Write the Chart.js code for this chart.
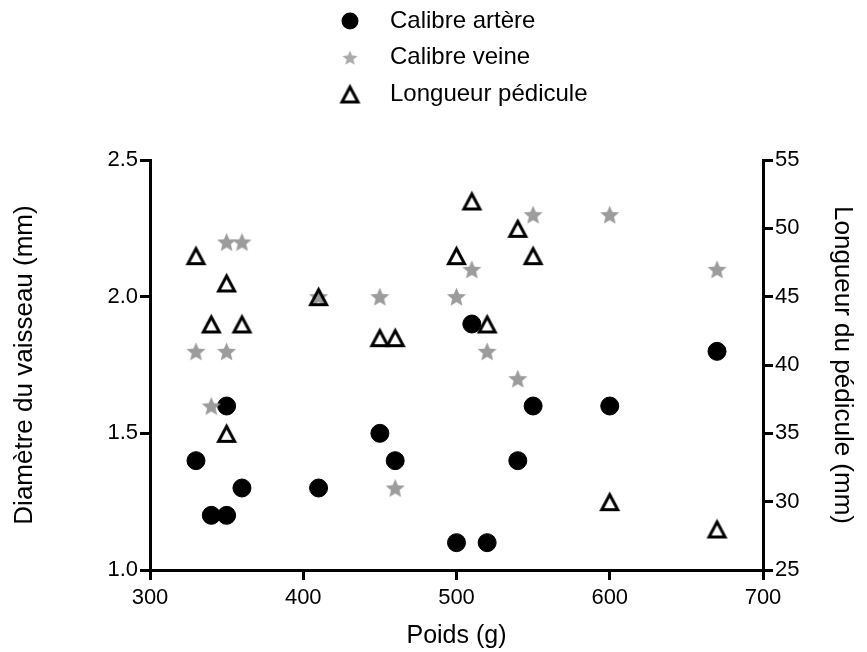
<!DOCTYPE html>
<html>
<head>
<meta charset="utf-8">
<script src="https://cdn.jsdelivr.net/npm/chart.js@4.4.0/dist/chart.umd.min.js"></script>
<style>
body{margin:0;background:#fff;}
</style>
</head>
<body>
<canvas id="canvas" width="867" height="652"></canvas>
<script>
// données (un animal par position)
var poids = [330, 340, 350, 350, 360, 410, 450, 460, 500, 510, 520, 540, 550, 600, 670];
var calibre_artere = [1.4, 1.2, 1.2, 1.6, 1.3, 1.3, 1.5, 1.4, 1.1, 1.9, 1.1, 1.4, 1.6, 1.6, 1.8];
var calibre_veine = [1.8, 1.6, 2.2, 1.8, 2.2, 2.0, 2.0, 1.3, 2.0, 2.1, 1.8, 1.7, 2.3, 2.3, 2.1];
var longueur_pedicule = [48, 43, 46, 35, 43, 45, 42, 42, 48, 52, 43, 50, 48, 30, 28];
var labels_series = ['Calibre artère', 'Calibre veine', 'Longueur pédicule'];

function points(ys) {
    return poids.map(function (x, i) { return {x: x, y: ys[i]}; });
}

// étoile pleine grise
function etoile(taille, couleur) {
    var c = document.createElement('canvas');
    c.width = taille; c.height = taille;
    var g = c.getContext('2d');
    var cx = taille / 2, cy = taille / 2 + 0.9, R = taille / 2 - 0.5, r = R * 0.45;
    g.beginPath();
    for (var k = 0; k < 10; k++) {
        var rad = (k % 2 === 0) ? R : r;
        var a = -Math.PI / 2 + k * Math.PI / 5;
        g.lineTo(cx + rad * Math.cos(a), cy + rad * Math.sin(a));
    }
    g.closePath();
    g.fillStyle = couleur;
    g.fill();
    return c;
}

// triangle vide, centré sur sa boîte
function triangle(taille) {
    var c = document.createElement('canvas');
    c.width = taille; c.height = taille;
    var g = c.getContext('2d');
    var m = taille / 2;
    g.beginPath();
    g.moveTo(m, 5.5);
    g.lineTo(m + 8, taille - 4.5);
    g.lineTo(m - 8, taille - 4.5);
    g.closePath();
    g.lineWidth = 3;
    g.lineJoin = 'miter';
    g.strokeStyle = '#000';
    g.stroke();
    return c;
}

var imgEtoile = etoile(21, '#9c9c9c');
var imgTriangle = triangle(25);
var legendeImages = [null, etoile(17, '#ababab'), imgTriangle];

Chart.defaults.font.family = '"Liberation Sans", Arial, sans-serif';
Chart.defaults.color = '#000';

var legendeVerticale = {
    id: 'legendeVerticale',
    afterDraw: function (chart) {
        var ctx = chart.ctx;
        chart.data.datasets.forEach(function (ds, i) {
            var y = 21 + i * 36.5;
            ctx.save();
            if (ds.pointStyle === 'circle') {
                ctx.beginPath();
                ctx.arc(350, y, 8.5, 0, Math.PI * 2);
                ctx.fillStyle = ds.backgroundColor;
                ctx.fill();
            } else {
                var im = legendeImages[i];
                ctx.drawImage(im, 350 - im.width / 2, y - im.height / 2);
            }
            ctx.fillStyle = '#000';
            ctx.font = '24px "Liberation Sans", Arial, sans-serif';
            ctx.textBaseline = 'middle';
            ctx.fillText(ds.label, 390, y);
            ctx.restore();
        });
    }
};

var axe = {
    grid: {drawOnChartArea: false, drawTicks: true, tickLength: 10, tickWidth: 3, tickColor: '#000', lineWidth: 3, color: '#000'},
    border: {display: true, color: '#000', width: 3}
};

var ctx = document.getElementById('canvas').getContext('2d');
var myChart = new Chart(ctx, {
    type: 'scatter',
    data: {
        datasets: [{
            label: labels_series[0],
            data: points(calibre_artere),
            yAxisID: 'y',
            pointStyle: 'circle',
            pointRadius: 9,
            backgroundColor: '#000',
            borderColor: '#000',
            borderWidth: 1,
            order: 3
        }, {
            label: labels_series[1],
            data: points(calibre_veine),
            yAxisID: 'y',
            pointStyle: imgEtoile,
            backgroundColor: '#9c9c9c',
            borderColor: '#9c9c9c',
            order: 2
        }, {
            label: labels_series[2],
            data: points(longueur_pedicule),
            yAxisID: 'y2',
            pointStyle: imgTriangle,
            backgroundColor: 'transparent',
            borderColor: '#000',
            order: 1
        }]
    },
    options: {
        responsive: false,
        animation: false,
        events: [],
        layout: {padding: {top: 160, left: 0, right: 0, bottom: 0}},
        plugins: {legend: {display: false}, tooltip: {enabled: false}},
        scales: {
            x: Object.assign({
                type: 'linear',
                min: 300, max: 700,
                ticks: {stepSize: 100, padding: 5, font: {size: 22}},
                title: {display: true, text: 'Poids (g)', font: {size: 25}, padding: {top: 0, bottom: 1}},
                afterFit: function (s) { s.height = 82; }
            }, axe),
            y: Object.assign({
                type: 'linear',
                position: 'left',
                min: 1.0, max: 2.5,
                ticks: {stepSize: 0.5, padding: 2, font: {size: 22}, callback: function (v) { return v.toFixed(1); }},
                title: {display: true, text: 'Diamètre du vaisseau (mm)', font: {size: 26}, padding: {top: 9, bottom: 0}},
                afterFit: function (s) { s.width = 150; }
            }, axe),
            y2: Object.assign({
                type: 'linear',
                position: 'right',
                min: 25, max: 55,
                ticks: {stepSize: 5, padding: 2, font: {size: 22}},
                title: {display: true, text: 'Longueur du pédicule (mm)', font: {size: 26}, padding: {top: 9, bottom: 0}},
                afterFit: function (s) { s.width = 104; }
            }, axe)
        }
    },
    plugins: [legendeVerticale]
});
</script>
</body>
</html>
